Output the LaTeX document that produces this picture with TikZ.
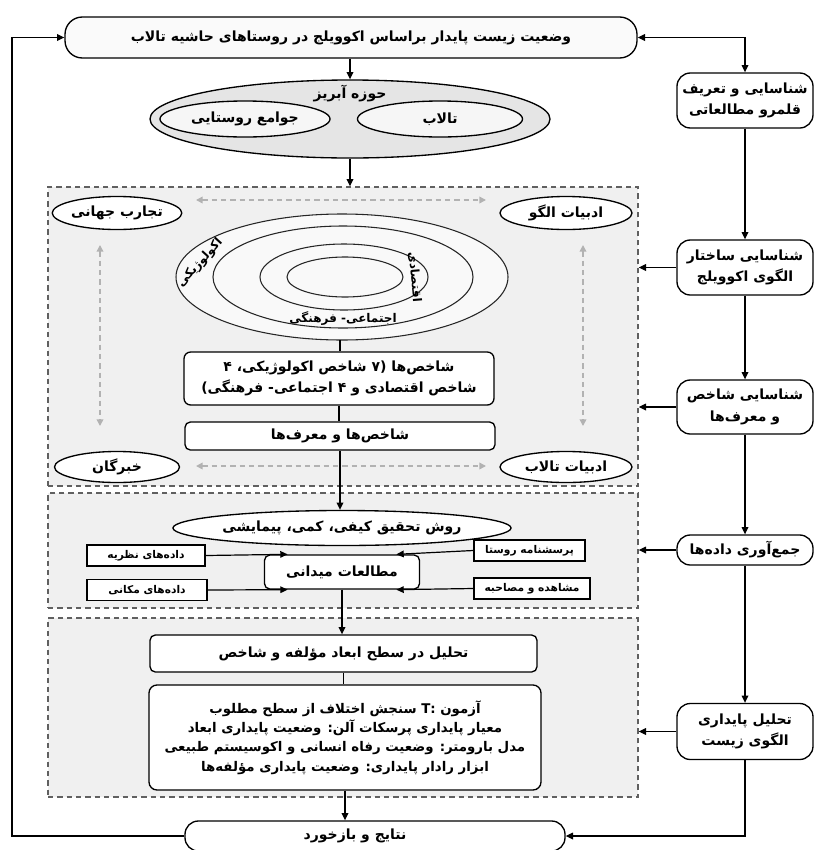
\documentclass[tikz,border=0pt]{standalone}
\usepackage{fontspec}
\usetikzlibrary{arrows.meta,shapes.geometric}
\TeXXeTstate=1
\newfontfamily\farsifont[Script=Arabic]{DejaVu Sans}
\newcommand\rl[1]{\beginR #1\endR}
\begin{document}
\begin{tikzpicture}[x=0.75pt,y=-0.75pt,
  base/.style={font=\farsifont\bfseries\fontsize{10.5}{16}\selectfont, align=center, inner sep=1pt, text=black},
  small/.style={font=\farsifont\bfseries\fontsize{8}{9}\selectfont},
  ringtxt/.style={font=\farsifont\bfseries\fontsize{9}{10}\selectfont},
  sz/.style 2 args={minimum width=#1*0.75pt, minimum height=#2*0.75pt},
  rbox/.style={base, draw, line width=1pt, rounded corners=6pt, fill=white},
  sbox/.style={base, draw, line width=1pt, fill=white},
  ell/.style={base, draw, ellipse, line width=1pt, fill=white, inner sep=0pt},
  region/.style={draw=gray!75!black, dash pattern=on 4pt off 3pt, line width=1pt, fill=gray!12},
  ring/.style={draw=black!85, line width=0.8pt},
  arr/.style={-{Triangle[length=5.5pt,width=5pt]}, line width=0.9pt},
  darr/.style={{Triangle[length=5.5pt,width=5pt]}-{Triangle[length=5.5pt,width=5pt]}, line width=0.9pt},
  garr/.style={{Triangle[length=5pt,width=5pt]}-{Triangle[length=5pt,width=5pt]}, draw=gray!60, dash pattern=on 4pt off 3pt, line width=1.1pt},
  lbl/.style={base, inner sep=0pt}
]
\useasboundingbox (0,0) rectangle (814,850);
\fill[white] (0,0) rectangle (814,850);

% dashed regions
\node[region, sz={590}{299}] (reg1) at (343,336.5) {};
\node[region, sz={590}{115}] (reg2) at (343,550.5) {};
\node[region, sz={590}{179}] (reg3) at (343,707.5) {};

% top box
\node[rbox, rounded corners=13pt, fill=gray!4, sz={572}{41}] (top) at (351,37.5)
  {\rl{وضعیت زیست پایدار براساس اکوویلج در روستاهای حاشیه تالاب}};

% basin ellipse
\node[ell, fill=gray!20, sz={400}{78}] (basin) at (350,119) {};
\node[lbl] (basinlbl) at (350,94) {\rl{حوزه آبریز}};
\node[ell, fill=gray!7, sz={170}{36}] (rural) at (245,119) {\rl{جوامع روستایی}};
\node[ell, fill=gray!7, sz={165}{36}] (wet) at (440,119) {\rl{تالاب}};

% right column
\node[rbox, rounded corners=10pt, sz={136}{55}] (r1) at (745,100.5) {\rl{شناسایی و تعریف}\\\rl{قلمرو مطالعاتی}};
\node[rbox, rounded corners=10pt, sz={136}{55}] (r2) at (745,267.5) {\rl{شناسایی ساختار}\\\rl{الگوی اکوویلج}};
\node[rbox, rounded corners=10pt, sz={136}{54}] (r3) at (745,407) {\rl{شناسایی شاخص}\\\rl{و معرف‌ها}};
\node[rbox, rounded corners=10pt, sz={136}{30}] (r4) at (745,550) {\rl{جمع‌آوری داده‌ها}};
\node[rbox, rounded corners=10pt, sz={136}{56}] (r5) at (745,731.5) {\rl{تحلیل پایداری}\\\rl{الگوی زیست}};

% bottom box
\node[rbox, rounded corners=10pt, sz={380}{30}] (bot) at (375,836) {\rl{نتایج و بازخورد}\hspace*{30pt}};

% region 1 content
\node[ell, sz={125}{33}] (cTL) at (117,213) {\rl{تجارب جهانی}};
\node[ell, sz={132}{33}] (cTR) at (566,213) {\rl{ادبیات الگو}};
\node[ell, sz={125}{31}] (cBL) at (117,467) {\rl{خبرگان}};
\node[ell, sz={132}{31}] (cBR) at (566,467) {\rl{ادبیات تالاب}};

\coordinate (gt1) at (196,200);
\coordinate (gt2) at (486,200);
\coordinate (gb1) at (196,466);
\coordinate (gb2) at (486,466);
\coordinate (gl1) at (100,245);
\coordinate (gl2) at (100,426);
\coordinate (gr1) at (583,245);
\coordinate (gr2) at (583,426);
\draw[garr] (gt1) -- (gt2);
\draw[garr] (gb1) -- (gb2);
\draw[garr] (gl1) -- (gl2);
\draw[garr] (gr1) -- (gr2);

% concentric rings
\fill[gray!5] (342,277) ellipse [x radius=166, y radius=63];
\draw[ring] (342,277) ellipse [x radius=166, y radius=63];
\draw[ring] (343,277) ellipse [x radius=130, y radius=51];
\draw[ring] (344,277) ellipse [x radius=84, y radius=33];
\draw[ring] (345,277) ellipse [x radius=58, y radius=20];
\node[lbl, ringtxt, rotate=48] (lecol) at (200,263) {\rl{اکولوژیکی}};
\node[lbl, ringtxt, rotate=-85] (lecon) at (415,277) {\rl{اقتصادی}};
\node[lbl, ringtxt] (lsoc) at (343,319) {\rl{اجتماعی- فرهنگی}};
\coordinate (ringb) at (340,340);

\node[rbox, rounded corners=5pt, sz={310}{53}] (bA) at (339,378.5)
  {\rl{شاخص‌ها (۷ شاخص اکولوژیکی، ۴}\\\rl{شاخص اقتصادی و ۴ اجتماعی- فرهنگی)}};
\node[rbox, rounded corners=4pt, sz={310}{28}] (bB) at (340,436) {\rl{شاخص‌ها و معرف‌ها}};

% region 2 content
\node[ell, sz={275}{35}] (meth) at (342,528) {\rl{روش تحقیق کیفی، کمی، پیمایشی}};
\node[rbox, rounded corners=4pt, sz={155}{34}] (field) at (342,572) {\rl{مطالعات میدانی}};
\node[sbox, small, sz={118}{21}] (sT) at (146,555.5) {\rl{داده‌های نظریه}};
\node[sbox, small, sz={120}{21}] (sS) at (147,590) {\rl{داده‌های مکانی}};
\node[sbox, small, sz={111}{21}] (sQ) at (529.5,550.5) {\rl{پرسشنامه روستا}};
\node[sbox, small, sz={116}{21}] (sO) at (532,588.5) {\rl{مشاهده و مصاحبه}};

% region 3 content
\node[rbox, rounded corners=4pt, sz={387}{37}] (bC) at (343.5,653.5) {\rl{تحلیل در سطح ابعاد مؤلفه و شاخص}};
\node[rbox, rounded corners=6pt, sz={392}{105}, inner sep=0pt, font=\farsifont\bfseries\fontsize{10}{14.5}\selectfont] (bD) at (345,737.5)
  {\rl{آزمون T: سنجش اختلاف از سطح مطلوب}\\
   \rl{معیار پایداری پرسکات آلن: وضعیت پایداری ابعاد}\\
   \rl{مدل بارومتر: وضعیت رفاه انسانی و اکوسیستم طبیعی}\\
   \rl{ابزار رادار پایداری: وضعیت پایداری مؤلفه‌ها}};

% connectors main column
\draw[arr] (top.south -| basin.north) -- (basin.north);
\draw[arr] (basin.south) -- (basin.south |- reg1.north);
\draw[line width=0.9pt] (ringb) -- (ringb |- bA.north);
\draw[line width=0.9pt] (bA.south) -- (bA.south |- bB.north);
\draw[arr] (bB.south) -- (bB.south |- meth.north);
\draw[arr] (sT.east) -- (field.162);
\draw[arr] (sS.east) -- (field.198);
\draw[arr] (sQ.west) -- (field.18);
\draw[arr] (sO.west) -- (field.-18);
\draw[arr] (field.south) -- (field.south |- bC.north);
\draw[line width=0.9pt] (bC.south) -- (bC.south |- bD.north);
\draw[arr] (bD.south) -- (bD.south |- bot.north);

% right column connectors
\draw[darr] (top.east) -| (r1.north);
\draw[arr] (r1.south) -- (r2.north);
\draw[arr] (r2.south) -- (r3.north);
\draw[arr] (r3.south) -- (r4.north);
\draw[arr] (r4.south) -- (r5.north);
\draw[arr] (r2.west) -- (r2.west -| reg1.east);
\draw[arr] (r3.west) -- (r3.west -| reg1.east);
\draw[arr] (r4.west) -- (r4.west -| reg2.east);
\draw[arr] (r5.west) -- (r5.west -| reg3.east);
\draw[arr] (r5.south) |- (bot.east);

% feedback loop on the left
\coordinate (lft) at (12,836);
\draw[arr] (bot.west) -- (lft) |- (top.west);
\end{tikzpicture}
\end{document}
